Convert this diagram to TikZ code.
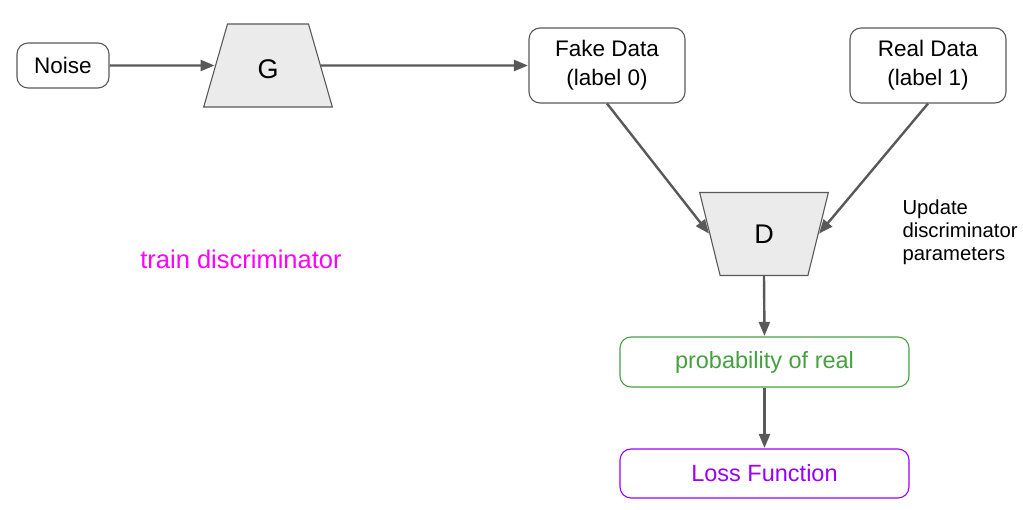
\documentclass[tikz,border=0pt]{standalone}
\usepackage{fontspec}
\setmainfont{Liberation Sans}
\usepackage{tikz}
\usetikzlibrary{shapes, positioning, arrows.meta, calc}
\definecolor{linegray}{HTML}{595959}
\definecolor{trapfill}{HTML}{EBEBEB}
\definecolor{probgreen}{HTML}{46A040}
\definecolor{losspurple}{HTML}{9900FF}
\definecolor{trainpink}{HTML}{FF00FF}
\tikzstyle{box}=[draw=linegray, line width=1.1pt, rounded corners=11pt, align=center, font=\fontsize{22.5}{29}\selectfont]
\tikzstyle{wide box}=[box, minimum width=289pt, font=\fontsize{23.5}{28}\selectfont]
\tikzstyle{net}=[trapezium, trapezium angle=76.4, trapezium stretches=true, draw=linegray, line width=1.1pt, fill=trapfill, minimum width=129pt, minimum height=83pt, font=\fontsize{27}{30}\selectfont]
\tikzstyle{arrow}=[-{Triangle[length=14pt,width=11pt]}, draw=linegray, line width=2.4pt, shorten >=0.5pt]

\begin{document}
\begin{tikzpicture}[x=1pt, y=-1pt]
      \useasboundingbox (0,0) rectangle (1023,510);

      \node[box, minimum width=92pt, minimum height=45pt] (noise) at (63,65.5) {Noise};
      \node[net, text height=27pt, text depth=0pt] (gen) at (268,65.5) {G};
      \node[box, minimum width=156pt, minimum height=75pt] (fake) at (607,65.5) {Fake Data\\(label 0)};
      \node[box, minimum width=156pt, minimum height=75pt] (real) at (928,65.5) {Real Data\\(label 1)};
      \node[net, shape border rotate=180] (disc) at (764,234) {D};
      \node[wide box, draw=probgreen, text=probgreen, minimum height=50pt] (prob) at (764.5,362) {probability of real};
      \node[wide box, draw=losspurple, text=losspurple, minimum height=49pt] (loss) at (764.5,473.5) {Loss Function};
      \node[align=left, anchor=north west, font=\fontsize{20.3}{23}\selectfont] (update) at (899,196) {Update\\discriminator\\parameters};
      \node[text=trainpink, font=\fontsize{25.5}{28}\selectfont] (train) at (241,259) {train discriminator};

      \draw[arrow] (noise) -- (gen);
      \draw[arrow] (gen) -- (fake);
      \draw[arrow] (fake.south) -- (disc.west);
      \draw[arrow] (real.south) -- (disc.east);
      \draw[arrow] (disc.south) -- (prob.north);
      \draw[arrow] (prob.south) -- (loss.north);

\end{tikzpicture}
\end{document}
